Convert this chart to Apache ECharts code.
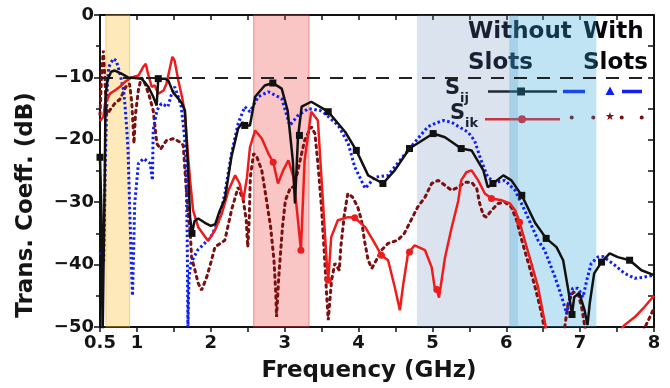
<!DOCTYPE html>
<html>
<head>
<meta charset="utf-8">
<script src="https://cdn.jsdelivr.net/npm/echarts@6/dist/echarts.min.js"></script>
<style>html,body{margin:0;padding:0;background:#fff}#c{width:670px;height:388px}</style>
</head>
<body>
<div id="c"></div>
<script>
// ---------- data (GHz, dB) ----------
const sijWithout = [
[0.5,-22.8],[0.52,-32],[0.535,-52],[0.555,-52],[0.565,-25],[0.575,-13],[0.6,-10.5],[0.65,-9.1],[0.7,-8.9],[0.79,-9.4],[0.88,-10],[0.97,-10.1],[1.064,-10.2],[1.154,-11.5],[1.221,-13.1],[1.267,-14.5],[1.289,-10.2],[1.38,-10.2],[1.424,-10.5],[1.49,-12.4],[1.56,-13.4],[1.61,-14.2],[1.65,-15.3],[1.69,-24],[1.72,-32.4],[1.745,-35],[1.78,-33],[1.83,-32.6],[1.92,-33.3],[2.0,-33.8],[2.06,-33.5],[2.12,-31.4],[2.19,-29.5],[2.28,-22.7],[2.37,-18.2],[2.43,-17.2],[2.46,-17.7],[2.53,-17.7],[2.6,-13.1],[2.73,-11.3],[2.84,-10.9],[2.96,-11.8],[3.04,-15.3],[3.11,-23.3],[3.14,-30.2],[3.18,-19.6],[3.2,-19.3],[3.23,-14.7],[3.36,-13.9],[3.52,-15],[3.59,-15.5],[3.82,-18.75],[3.97,-21.7],[4.13,-25.7],[4.33,-27.0],[4.49,-24.9],[4.69,-21.4],[5.01,-19.0],[5.17,-19.6],[5.39,-21.4],[5.53,-21.7],[5.69,-24.9],[5.75,-27.6],[5.82,-27.0],[5.96,-25.7],[6.07,-26.5],[6.21,-28.9],[6.39,-33.3],[6.54,-35.8],[6.68,-37.2],[6.77,-39.3],[6.84,-44.1],[6.89,-48],[6.92,-45.2],[6.99,-44.6],[7.06,-47.3],[7.10,-49.7],[7.13,-46.2],[7.19,-41.4],[7.29,-39.6],[7.40,-38.2],[7.51,-38.8],[7.67,-39.3],[7.83,-40.9],[8.0,-41.7]
];
const sijWithoutMarks = [0.5,1.289,1.745,2.46,2.84,3.2,3.59,3.97,4.33,4.69,5.01,5.39,5.82,6.21,6.54,6.89,7.29,7.67];

const sijWith = [
[0.5,-38],[0.55,-39.5],[0.57,-25],[0.585,-17],[0.6,-11],[0.62,-8.3],[0.68,-7.0],[0.72,-7.3],[0.77,-9.4],[0.82,-12.1],[0.84,-14.7],[0.86,-17.9],[0.88,-21.7],[0.9,-30],[0.925,-40],[0.94,-45],[0.955,-38],[0.97,-30.2],[1.02,-23.8],[1.09,-23],[1.18,-23.8],[1.21,-26.5],[1.22,-18.5],[1.27,-15.3],[1.33,-14.2],[1.42,-14.7],[1.47,-12.6],[1.51,-11.5],[1.56,-13.1],[1.6,-14.7],[1.63,-17.9],[1.66,-21.7],[1.68,-35],[1.69,-50],[1.705,-42],[1.73,-39.8],[1.82,-37.7],[2.0,-35.6],[2.11,-32.9],[2.19,-28.6],[2.28,-22.2],[2.37,-17.4],[2.46,-14.7],[2.53,-15.5],[2.64,-13.1],[2.78,-12.3],[2.96,-13.4],[3.07,-17.7],[3.18,-16.1],[3.32,-15],[3.48,-15.3],[3.545,-15.8],[3.725,-17.7],[3.86,-20.6],[3.95,-24.4],[4.09,-27.8],[4.22,-26],[4.40,-25.7],[4.58,-23],[4.76,-20.4],[4.94,-17.9],[5.05,-17.3],[5.15,-16.9],[5.26,-17.2],[5.4,-18.2],[5.48,-18.75],[5.57,-20.1],[5.66,-23.3],[5.75,-26],[5.85,-26.8],[5.98,-26.5],[6.12,-28.1],[6.25,-31.3],[6.43,-36.1],[6.52,-37.7],[6.66,-42],[6.75,-45.2],[6.82,-47.9],[6.86,-45.2],[6.90,-43.8],[6.97,-43.8],[7.04,-45.2],[7.09,-42.5],[7.15,-39.8],[7.24,-38.8],[7.31,-38.7],[7.47,-40.1],[7.60,-41.4],[7.74,-42.2],[7.87,-42],[8.0,-41.7]
];

const sikWithout = [
[0.5,-17],[0.545,-16.3],[0.568,-14.2],[0.635,-12.6],[0.70,-12.1],[0.77,-11.5],[0.84,-10.7],[0.93,-10],[1.02,-9.7],[1.086,-8.3],[1.12,-7.8],[1.15,-9.4],[1.20,-11.5],[1.24,-11.3],[1.29,-12.6],[1.36,-12.1],[1.40,-11],[1.45,-8.3],[1.48,-6.7],[1.51,-7.3],[1.56,-10.5],[1.61,-13.1],[1.65,-15.8],[1.67,-19],[1.69,-22.2],[1.72,-26.5],[1.76,-31.3],[1.83,-34],[1.92,-35.5],[1.965,-36.2],[2.056,-34.5],[2.15,-31.8],[2.24,-28.1],[2.33,-25.7],[2.39,-27],[2.44,-29.7],[2.49,-26],[2.53,-21.2],[2.60,-18.5],[2.69,-19.8],[2.78,-22.2],[2.845,-23.6],[2.91,-27],[2.98,-24.9],[3.05,-23.3],[3.12,-26],[3.18,-32.9],[3.22,-37.7],[3.27,-23.3],[3.36,-15.5],[3.45,-16.9],[3.5,-26.5],[3.57,-39.8],[3.59,-42.5],[3.63,-35.6],[3.72,-32.9],[3.86,-32.4],[3.95,-32.5],[4.09,-34],[4.22,-36.6],[4.31,-38.5],[4.40,-39.3],[4.49,-43.6],[4.56,-47.3],[4.60,-43.6],[4.67,-38.2],[4.69,-38],[4.76,-36.9],[4.90,-37.7],[4.99,-40.4],[5.03,-43.6],[5.06,-44],[5.09,-45.3],[5.17,-38.9],[5.26,-34.1],[5.35,-29.8],[5.39,-26.5],[5.46,-25.2],[5.53,-24.9],[5.62,-26.5],[5.71,-28.6],[5.80,-29.4],[5.94,-29.7],[6.05,-30.2],[6.12,-31.3],[6.18,-33.2],[6.25,-36.1],[6.34,-39.8],[6.43,-43.6],[6.50,-47.9],[6.56,-51.5],[7.0,-60],[7.45,-52],[7.6,-49.7],[7.74,-48.4],[7.87,-46.8],[8.0,-45]
];
const sikWithoutMarks = [2.845,3.22,3.59,3.95,4.31,4.69,5.06,5.80,6.18];

const sikWith = [
[0.5,-16],[0.52,-10],[0.545,-5.7],[0.565,-10],[0.59,-16],[0.63,-15.3],[0.7,-14.2],[0.77,-13.5],[0.85,-11.5],[0.9,-11],[0.93,-14],[0.96,-20.6],[0.98,-16],[1.02,-12],[1.06,-10],[1.11,-11],[1.17,-13.1],[1.22,-15.3],[1.27,-20.6],[1.32,-21.5],[1.4,-20.1],[1.5,-19.8],[1.6,-20.5],[1.627,-20.9],[1.65,-24.9],[1.67,-28.1],[1.695,-32.4],[1.72,-34.5],[1.74,-38.8],[1.785,-40.9],[1.83,-43],[1.875,-44.1],[1.945,-42],[2.01,-39.3],[2.056,-37.2],[2.19,-36.1],[2.28,-31.3],[2.37,-27.6],[2.44,-29.7],[2.48,-32.9],[2.50,-37.2],[2.52,-32.9],[2.535,-26],[2.58,-22.2],[2.625,-22.8],[2.69,-24.9],[2.74,-28.6],[2.81,-34],[2.855,-39.3],[2.88,-44.6],[2.89,-48.4],[2.92,-42],[2.97,-34],[3.01,-29.7],[3.08,-27.6],[3.12,-27.6],[3.17,-25.4],[3.23,-22.2],[3.27,-20.1],[3.36,-17.9],[3.41,-19],[3.45,-23.8],[3.5,-31],[3.545,-39.8],[3.57,-45.2],[3.59,-48.9],[3.635,-42.5],[3.68,-39.8],[3.74,-40.9],[3.76,-37.2],[3.81,-31.8],[3.855,-28.6],[3.92,-29.2],[3.99,-30.8],[4.04,-32.9],[4.08,-36.1],[4.13,-39.3],[4.18,-40.6],[4.24,-39.3],[4.31,-37.7],[4.40,-36.6],[4.53,-36.1],[4.62,-35],[4.71,-32.9],[4.80,-30.8],[4.90,-29.2],[4.99,-27],[5.08,-26.5],[5.17,-27.3],[5.26,-28.1],[5.35,-27.6],[5.44,-26.8],[5.53,-26.8],[5.60,-27.8],[5.64,-30.2],[5.69,-32.1],[5.73,-32.4],[5.80,-31.3],[5.89,-30.2],[5.98,-30],[6.07,-30.8],[6.14,-32.9],[6.21,-36.1],[6.30,-39.8],[6.39,-43.6],[6.48,-47.9],[6.54,-52],[6.7,-60],[6.78,-51],[6.837,-46.2],[6.905,-44.4],[6.97,-44.6],[7.02,-46.8],[7.06,-49.7],[7.1,-53],[7.4,-60],[7.8,-52],[7.9,-49.5],[8.0,-47]
];

// shaded bands [start, end] in GHz
const bandOrange = [0.58, 0.90];
const bandRed = [2.58, 3.33];
const bandGrey = [4.79, 6.16];
const bandBlue = [6.04, 7.22];
const threshold = -10;

// axis ticks
const xMin = 0.5, xMax = 8, xStep = 0.5;
const yMin = -50, yMax = 0, yStep = 10;

// ---------- chart ----------
const FONT = '"DejaVu Sans", "Liberation Sans", sans-serif';
const chart = echarts.init(document.getElementById('c'), null, {renderer: 'canvas'});

function band(b, fill, border) {
  return [{xAxis: b[0], yAxis: yMax, itemStyle: {color: fill, borderColor: border, borderWidth: border ? 1.2 : 0}}, {xAxis: b[1], yAxis: yMin}];
}

const TXT = '#05070c';
const option = {
  animation: false,
  backgroundColor: '#ffffff',
  grid: {left: 100, right: 16, top: 15, bottom: 61, containLabel: false},
  xAxis: [{
    type: 'value', min: xMin, max: xMax, interval: xStep, position: 'bottom',
    axisLine: {show: true, onZero: false, lineStyle: {color: '#111', width: 2}},
    axisTick: {show: true, inside: false, length: 5, lineStyle: {color: '#111', width: 1.5}},
    axisLabel: {
      show: true, margin: 7, color: '#151515', fontSize: 18, fontWeight: 'bold', fontFamily: FONT,
      formatter: v => (Math.abs(v - 0.5) < 1e-9 ? '0.5' : (Number.isInteger(v) ? String(v) : ''))
    },
    splitLine: {show: false}
  }, {
    type: 'value', min: xMin, max: xMax, interval: xStep, position: 'top',
    axisLine: {show: true, onZero: false, lineStyle: {color: '#111', width: 2}},
    axisTick: {show: true, inside: true, length: 5, lineStyle: {color: '#111', width: 1.5}},
    axisLabel: {show: false}, splitLine: {show: false}
  }],
  yAxis: [{
    type: 'value', min: yMin, max: yMax, interval: yStep, position: 'left',
    axisLine: {show: true, onZero: false, lineStyle: {color: '#111', width: 2}},
    axisTick: {show: true, inside: false, length: 6, lineStyle: {color: '#111', width: 1.5}},
    minorTick: {show: true, splitNumber: 2, length: 4, lineStyle: {color: '#111', width: 1.5}},
    axisLabel: {
      show: true, margin: 6, color: '#151515', fontSize: 18, fontWeight: 'bold', fontFamily: FONT,
      formatter: v => (v === 0 ? '0' : '\u2212' + Math.abs(v))
    },
    splitLine: {show: false}
  }, {
    type: 'value', min: yMin, max: yMax, interval: 5, position: 'right',
    axisLine: {show: true, onZero: false, lineStyle: {color: '#111', width: 2}},
    axisTick: {show: true, inside: true, length: 6, lineStyle: {color: '#111', width: 1.5}},
    axisLabel: {show: false}, splitLine: {show: false}
  }],
  graphic: [
    {type: 'text', x: 369, y: 371, style: {text: 'Frequency (GHz)', font: 'bold 23px ' + FONT, fill: '#151515', textAlign: 'center', textVerticalAlign: 'middle'}},
    {type: 'text', x: 26, y: 205, rotation: Math.PI / 2, style: {text: 'Trans. Coeff. (dB)', font: 'bold 23px ' + FONT, fill: '#151515', textAlign: 'center', textVerticalAlign: 'middle'}},
    {type: 'text', x: 468, y: 32, style: {text: 'Without', font: 'bold 23px ' + FONT, fill: TXT, textAlign: 'left', textVerticalAlign: 'middle'}},
    {type: 'text', x: 468, y: 63, style: {text: 'Slots', font: 'bold 23px ' + FONT, fill: TXT, textAlign: 'left', textVerticalAlign: 'middle'}},
    {type: 'text', x: 583, y: 32, style: {text: 'With', font: 'bold 23px ' + FONT, fill: TXT, textAlign: 'left', textVerticalAlign: 'middle'}},
    {type: 'text', x: 583, y: 63, style: {text: 'Slots', font: 'bold 23px ' + FONT, fill: TXT, textAlign: 'left', textVerticalAlign: 'middle'}},
    {type: 'text', x: 445, y: 89, style: {text: 'S', font: 'bold 21px ' + FONT, fill: TXT, textAlign: 'left', textVerticalAlign: 'middle'}},
    {type: 'text', x: 460, y: 99, style: {text: 'ij', font: 'bold 13px ' + FONT, fill: TXT, textAlign: 'left', textVerticalAlign: 'middle'}},
    {type: 'text', x: 450, y: 114, style: {text: 'S', font: 'bold 21px ' + FONT, fill: TXT, textAlign: 'left', textVerticalAlign: 'middle'}},
    {type: 'text', x: 465, y: 124, style: {text: 'ik', font: 'bold 13px ' + FONT, fill: TXT, textAlign: 'left', textVerticalAlign: 'middle'}},
    // legend samples
    {type: 'line', shape: {x1: 488, y1: 91.5, x2: 557, y2: 91.5}, style: {stroke: '#111', lineWidth: 2.5}},
    {type: 'rect', shape: {x: 517, y: 87.5, width: 8, height: 8}, style: {fill: '#111'}},
    {type: 'line', shape: {x1: 563, y1: 91.5, x2: 585, y2: 91.5}, style: {stroke: '#1020f0', lineWidth: 3.5}},
    {type: 'polygon', shape: {points: [[610, 86.5], [605.5, 95], [614.5, 95]]}, style: {fill: '#1020f0'}},
    {type: 'line', shape: {x1: 622, y1: 91.5, x2: 642, y2: 91.5}, style: {stroke: '#1020f0', lineWidth: 3.5}},
    {type: 'line', shape: {x1: 485, y1: 119.3, x2: 560, y2: 119.3}, style: {stroke: '#ee1c1c', lineWidth: 2.5}},
    {type: 'circle', shape: {cx: 522, cy: 119.3, r: 4}, style: {fill: '#ee1c1c'}},
    {type: 'circle', shape: {cx: 571.7, cy: 117.5, r: 2}, style: {fill: '#7a1010'}},
    {type: 'circle', shape: {cx: 593.3, cy: 117.5, r: 2}, style: {fill: '#7a1010'}},
    {type: 'text', x: 610, y: 117.5, style: {text: '\u2605', font: '11px ' + FONT, fill: '#7a1010', textAlign: 'center', textVerticalAlign: 'middle'}},
    {type: 'circle', shape: {cx: 621.7, cy: 117.5, r: 2}, style: {fill: '#7a1010'}},
    {type: 'circle', shape: {cx: 641.7, cy: 117.5, r: 2}, style: {fill: '#7a1010'}}
  ],
  series: [
    {
      name: 'Sik with slots', type: 'line', data: sikWith, xAxisIndex: 0, yAxisIndex: 0,
      showSymbol: false, smooth: false, clip: true, z: 2,
      lineStyle: {color: '#7a1010', width: 3, type: [2.5, 4.5], cap: 'round'}
    },
    {
      name: 'Sij with slots', type: 'line', data: sijWith, xAxisIndex: 0, yAxisIndex: 0,
      showSymbol: false, clip: true, z: 3,
      lineStyle: {color: '#1020f0', width: 3, type: [2.5, 2.5]}
    },
    {
      name: 'Sik without slots', type: 'line', data: sikWithout, xAxisIndex: 0, yAxisIndex: 0,
      clip: true, z: 4, showSymbol: true, symbol: 'circle',
      symbolSize: v => (sikWithoutMarks.includes(v[0]) ? 7 : 0),
      itemStyle: {color: '#ee1c1c'},
      lineStyle: {color: '#ee1c1c', width: 2.5}
    },
    {
      name: 'Sij without slots', type: 'line', data: sijWithout, xAxisIndex: 0, yAxisIndex: 0,
      clip: true, z: 5, showSymbol: true, symbol: 'rect',
      symbolSize: v => (sijWithoutMarks.includes(v[0]) ? 7 : 0),
      itemStyle: {color: '#111'},
      lineStyle: {color: '#111', width: 2.5}
    },
    {
      name: 'threshold', type: 'line', data: [], xAxisIndex: 0, yAxisIndex: 0, z: 6,
      markLine: {
        silent: true, symbol: 'none', label: {show: false},
        lineStyle: {color: '#222', width: 2, type: [13, 10]},
        data: [{yAxis: threshold}]
      }
    },
    {
      name: 'bands', type: 'line', data: [], xAxisIndex: 0, yAxisIndex: 0, z: 10,
      markArea: {
        silent: true,
        data: [
          band(bandOrange, 'rgba(248,182,22,0.30)', 'rgba(240,170,40,0.45)'),
          band(bandRed, 'rgba(235,62,62,0.30)', 'rgba(225,60,60,0.40)'),
          band(bandGrey, 'rgba(91,127,183,0.22)', null),
          band(bandBlue, 'rgba(45,165,220,0.30)', null)
        ]
      }
    }
  ]
};
chart.setOption(option);
</script>
</body>
</html>
